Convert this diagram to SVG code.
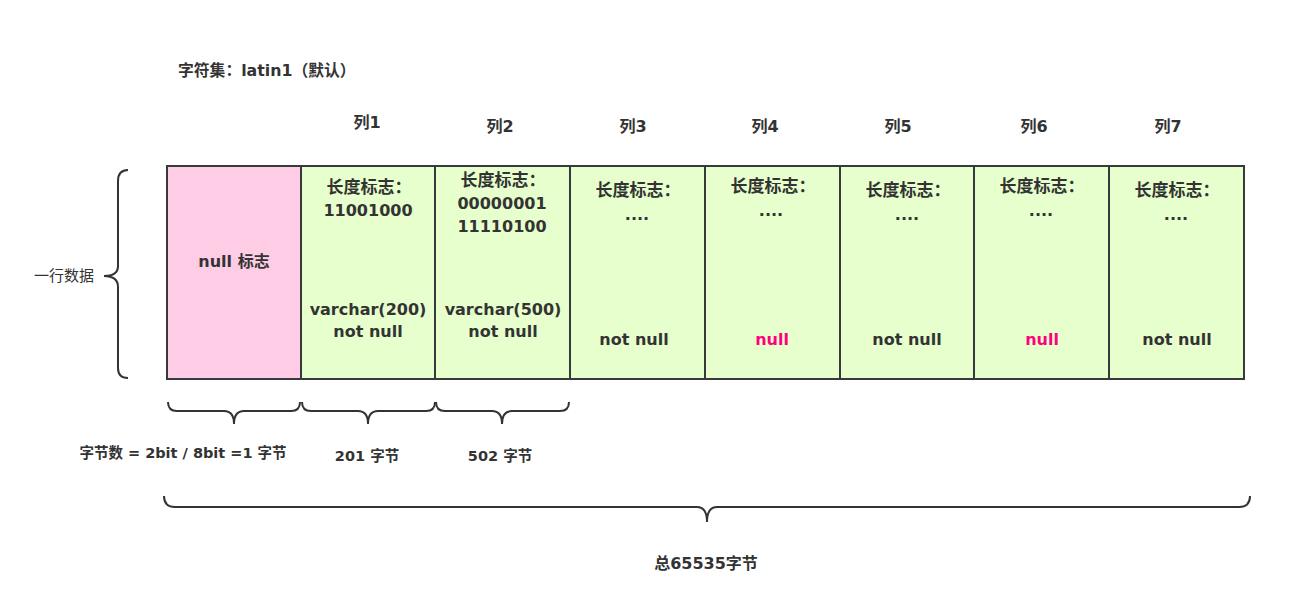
<svg xmlns="http://www.w3.org/2000/svg" width="1308" height="593" viewBox="0 0 1308 593">
<style>
text{font-family:"DejaVu Sans","Noto Sans CJK SC",sans-serif;fill:#333333;font-weight:bold;font-size:16px;text-anchor:middle}
.cell{fill:#E6FFCC;stroke:#36393D;stroke-width:2}
.pink{fill:#FFCCE6;stroke:#36393D;stroke-width:2}
.brace{fill:none;stroke:#333333;stroke-width:2}
.red{fill:#FF0080}
.sm{font-size:14.5px}
.reg{font-weight:normal;font-size:15px}
.lab{font-size:17px}
</style>
<rect width="1308" height="593" fill="#ffffff"/>
<text x="178" y="76" style="text-anchor:start;font-size:15.8px">字符集：latin1（默认）</text>
<g id="headers">
<text x="367" y="128">列1</text>
<text x="500" y="132">列2</text>
<text x="633" y="132">列3</text>
<text x="765" y="132">列4</text>
<text x="898" y="132">列5</text>
<text x="1034" y="132">列6</text>
<text x="1168" y="132">列7</text>
</g>
<g id="nullflag">
<rect class="pink" x="167" y="166" width="134" height="213"/>
<text x="234" y="267">null 标志</text>
</g>
<g id="col1">
<rect class="cell" x="301" y="166" width="134" height="213"/>
<text x="369" y="193" class="lab">长度标志：</text>
<text x="368" y="216">11001000</text>
<text x="368" y="315">varchar(200)</text>
<text x="368" y="337">not null</text>
</g>
<g id="col2">
<rect class="cell" x="435" y="166" width="135" height="213"/>
<text x="503" y="186" class="lab">长度标志：</text>
<text x="502" y="209">00000001</text>
<text x="502" y="232">11110100</text>
<text x="503" y="315">varchar(500)</text>
<text x="503" y="337">not null</text>
</g>
<g id="col3">
<rect class="cell" x="570" y="166" width="135" height="213"/>
<text x="638" y="196" class="lab">长度标志：</text>
<text x="637" y="220">....</text>
<text x="634" y="345">not null</text>
</g>
<g id="col4">
<rect class="cell" x="705" y="166" width="135" height="213"/>
<text x="773" y="192" class="lab">长度标志：</text>
<text x="771" y="216">....</text>
<text x="772" y="345" class="red">null</text>
</g>
<g id="col5">
<rect class="cell" x="840" y="166" width="134" height="213"/>
<text x="908" y="196" class="lab">长度标志：</text>
<text x="907" y="220">....</text>
<text x="907" y="345">not null</text>
</g>
<g id="col6">
<rect class="cell" x="974" y="166" width="135" height="213"/>
<text x="1042" y="192" class="lab">长度标志：</text>
<text x="1041" y="216">....</text>
<text x="1042" y="345" class="red">null</text>
</g>
<g id="col7">
<rect class="cell" x="1109" y="166" width="135" height="213"/>
<text x="1177" y="196" class="lab">长度标志：</text>
<text x="1176" y="220">....</text>
<text x="1177" y="345">not null</text>
</g>
<g id="braces">
<path class="brace" d="M128,170 Q118,170 118,181 L118,266 Q118,276 104,276 Q118,276 118,287 L118,368 Q118,378 128,378"/>
<path class="brace" d="M168,402 Q168,411 177,411 L224,411 Q234,411 234,424 Q234,411 244,411 L291,411 Q300,411 300,402"/>
<path class="brace" d="M302,402 Q302,411 311,411 L358,411 Q368,411 368,424 Q368,411 378,411 L426,411 Q435,411 435,402"/>
<path class="brace" d="M436,402 Q436,411 445,411 L492,411 Q502,411 502,424 Q502,411 512,411 L560,411 Q569,411 569,402"/>
<path class="brace" d="M164,496 Q164,507 175,507 L697,507 Q707,507 707,522 Q707,507 717,507 L1239,507 Q1250,507 1250,496"/>
</g>
<text x="64" y="281" class="reg">一行数据</text>
<text x="183" y="458" class="sm">字节数 = 2bit / 8bit =1 字节</text>
<text x="367" y="461" class="sm">201 字节</text>
<text x="500" y="461" class="sm">502 字节</text>
<text x="706" y="569">总65535字节</text>
</svg>
